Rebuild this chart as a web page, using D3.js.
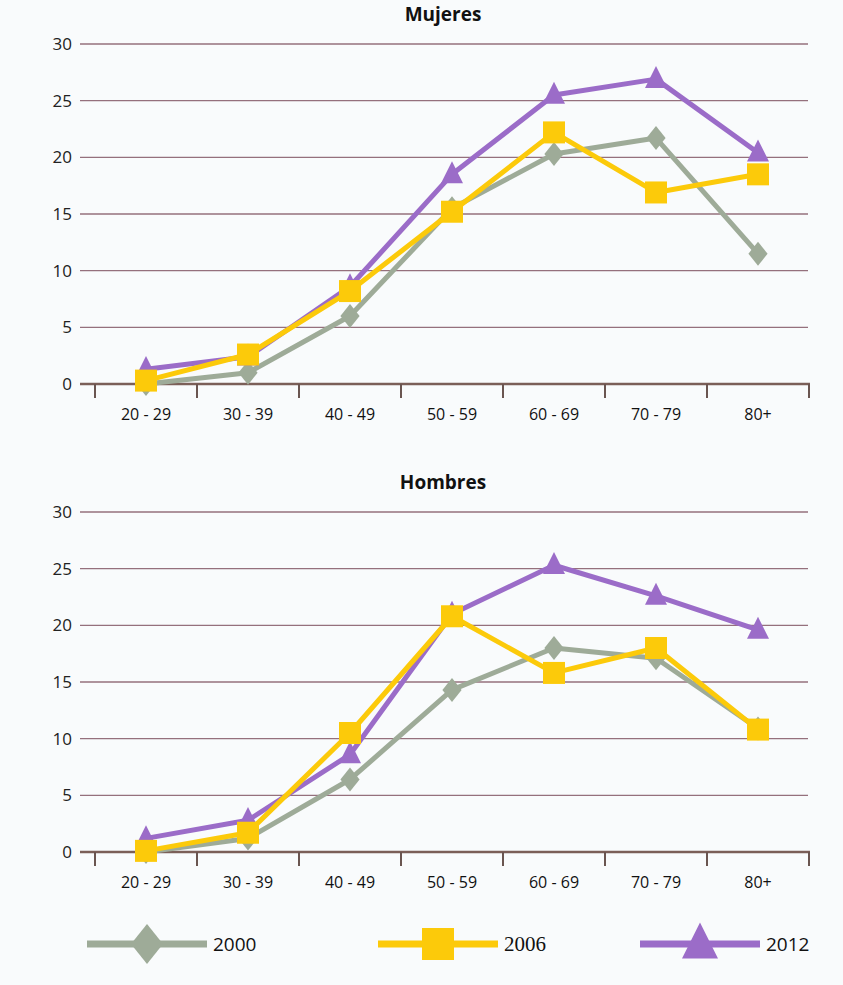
<!DOCTYPE html>
<html><head><meta charset="utf-8">
<script src="https://cdn.jsdelivr.net/npm/d3@7"></script>
<style>body{margin:0;background:#f9fbfc;}svg{display:block;}</style>
</head><body>
<svg id="c" width="843" height="985"></svg>
<script>
const categories = ["20 - 29","30 - 39","40 - 49","50 - 59","60 - 69","70 - 79","80+"];
const yTicks = [0,5,10,15,20,25,30];
const mujeres2000 = [0, 1.0, 6.0, 15.5, 20.3, 21.7, 11.5];
const mujeres2006 = [0.3, 2.6, 8.2, 15.2, 22.2, 16.9, 18.5];
const mujeres2012 = [1.3, 2.4, 8.6, 18.5, 25.5, 26.9, 20.4];
const hombres2000 = [0, 1.2, 6.4, 14.3, 18.0, 17.1, 10.9];
const hombres2006 = [0.1, 1.7, 10.5, 20.8, 15.8, 18.0, 10.8];
const hombres2012 = [1.2, 2.8, 8.6, 21.0, 25.3, 22.6, 19.6];
const seriesNames = ["2000","2006","2012"];

const colors = {"2000":"#9eab98","2006":"#fcca0a","2012":"#9b6cc8"};
const shapes = {"2000":"diamond","2006":"square","2012":"triangle"};
const svg = d3.select("#c");

function marker(g, type, cx, cy, s, color){
  if(type==="square"){
    g.append("rect").attr("x",cx-s/2).attr("y",cy-s/2).attr("width",s).attr("height",s).attr("fill",color);
  } else if(type==="diamond"){
    const w=s*0.8, h=s;
    g.append("path").attr("d",`M${cx},${cy-h/2}L${cx+w/2},${cy}L${cx},${cy+h/2}L${cx-w/2},${cy}Z`).attr("fill",color);
  } else {
    const w=s, h=s;
    g.append("path").attr("d",`M${cx},${cy-h*0.6}L${cx+w/2},${cy+h*0.4}L${cx-w/2},${cy+h*0.4}Z`).attr("fill",color);
  }
}

function drawChart(title, top, series){
  const y = d3.scaleLinear().domain([0,30]).range([top+340, top]);
  const x = d3.scaleBand().domain(categories).range([95, 809]);
  const g = svg.append("g");
  g.append("text").attr("x",443).attr("y",top-23).attr("text-anchor","middle")
   .attr("font-family","Open Sans, sans-serif").attr("font-weight","bold").attr("font-size",19)
   .attr("fill","#111").text(title);
  g.selectAll("line.grid").data(yTicks.filter(d=>d>0)).join("line")
   .attr("x1",80).attr("x2",808).attr("y1",d=>y(d)).attr("y2",d=>y(d))
   .attr("stroke","#95707c").attr("stroke-width",1.4);
  g.selectAll("text.yl").data(yTicks).join("text")
   .attr("x",72).attr("y",d=>y(d)+6).attr("text-anchor","end")
   .attr("font-family","Open Sans, sans-serif").attr("font-size",17).attr("fill","#222")
   .text(d=>d);
  const xa = g.append("g").attr("transform",`translate(0,${y(0)})`)
    .call(d3.axisBottom(x).tickSize(0).tickPadding(25));
  xa.select(".domain").remove();
  xa.selectAll("text").attr("font-family","Open Sans, sans-serif").attr("font-size",16).attr("fill","#111");
  g.append("line").attr("x1",80).attr("x2",810).attr("y1",y(0)).attr("y2",y(0))
   .attr("stroke","#7b5f58").attr("stroke-width",2.5);
  const tickPos = categories.map(c=>x(c)).concat([x.range()[1]]);
  g.selectAll("line.tk").data(tickPos).join("line")
   .attr("x1",d=>d).attr("x2",d=>d).attr("y1",y(0)).attr("y2",y(0)+14)
   .attr("stroke","#6a5550").attr("stroke-width",2);
  const line = d3.line().x((d,i)=>x(categories[i])+x.bandwidth()/2).y(d=>y(d));
  series.forEach(([name, vals])=>{
    const sg = g.append("g");
    sg.append("path").attr("d",line(vals)).attr("fill","none")
     .attr("stroke",colors[name]).attr("stroke-width",5).attr("stroke-linejoin","round");
    vals.forEach((v,i)=>{
      const cx = x(categories[i])+x.bandwidth()/2, cy=y(v);
      const s = shapes[name]==="square"?22:(shapes[name]==="diamond"?24:22);
      marker(sg, shapes[name], cx, cy, s, colors[name]);
    });
  });
}

drawChart("Mujeres", 44, [["2000",mujeres2000],["2012",mujeres2012],["2006",mujeres2006]]);
drawChart("Hombres", 512, [["2000",hombres2000],["2012",hombres2012],["2006",hombres2006]]);

const legendX = [87, 378, 640];
const lg = svg.append("g");
seriesNames.forEach((n,i)=>{
  const x0 = legendX[i], yy = 944;
  lg.append("line").attr("x1",x0).attr("x2",x0+120).attr("y1",yy).attr("y2",yy)
    .attr("stroke",colors[n]).attr("stroke-width",7);
  const s = shapes[n]==="square"?32:(shapes[n]==="diamond"?40:36);
  marker(lg, shapes[n], x0+60, yy, s, colors[n]);
  lg.append("text").attr("x",x0+126).attr("y",yy+7)
    .attr("font-family", n==="2006" ? "Liberation Serif, serif" : "Open Sans, sans-serif")
    .attr("font-size",n==="2006"?21:19).attr("fill","#111").text(n);
});
</script>
</body></html>
